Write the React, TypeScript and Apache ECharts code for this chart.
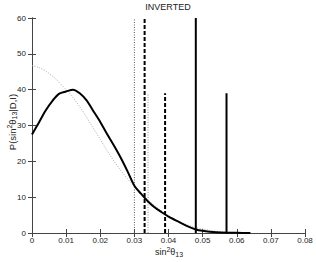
import React, { useEffect, useRef } from "react";
import * as echarts from "echarts";

const xTicks = [0, 0.01, 0.02, 0.03, 0.04, 0.05, 0.06, 0.07, 0.08];
const curveX = [0, 0.002, 0.004, 0.006, 0.008, 0.01, 0.012, 0.014, 0.016, 0.018, 0.02, 0.022, 0.024, 0.026, 0.028, 0.03, 0.032, 0.034, 0.036, 0.038, 0.04, 0.042, 0.044, 0.046, 0.048, 0.05, 0.052, 0.054, 0.057, 0.06, 0.064];
const posteriorY = [27.5, 30.8, 34.2, 36.9, 38.9, 39.5, 40.0, 39.0, 37.0, 34.0, 31.0, 27.6, 24.4, 21.0, 17.2, 13.2, 10.9, 8.8, 7.1, 5.8, 4.6, 3.6, 2.6, 1.7, 1.0, 0.6, 0.35, 0.2, 0.1, 0.05, 0];
const priorY = [46.7, 46.2, 45.2, 43.8, 42.0, 40.0, 37.8, 35.2, 32.3, 29.2, 26.1, 23.0, 20.1, 17.5, 15.1, 13.0, 11.0, 9.2, 7.6, 6.1, 4.8, 3.7, 2.8, 2.1, 1.5, 1.1, 0.75, 0.5, 0.3, 0.15, 0.05];
const limitX = [0.030, 0.034, 0.033, 0.039, 0.048, 0.057];
const limitTop = [60, 39, 60, 39, 60, 39];
const limitStyle = [
  { color: "#555", width: 1, type: [1, 1.5] },
  { color: "#999", width: 1, type: [1, 1.5] },
  { color: "#000", width: 2, type: [4, 2] },
  { color: "#000", width: 2, type: [4, 2] },
  { color: "#000", width: 2, type: "solid" },
  { color: "#000", width: 2, type: "solid" },
];

const FONT = "Liberation Sans, Arial, Helvetica, sans-serif";

export default function App() {
  const ref = useRef<HTMLDivElement>(null);
  useEffect(() => {
    if (!ref.current) return;
    const chart = echarts.init(ref.current, null, { renderer: "svg" });
    const axisLine = { show: true, lineStyle: { color: "#444", width: 1 } };
    const tick = { show: true, inside: true, length: 4, lineStyle: { color: "#444" } };
    const limitSeries = limitX.map((x, i) => ({
      type: "line",
      data: [[x, 0], [x, limitTop[i]]],
      symbol: "none",
      lineStyle: limitStyle[i],
      z: 3,
    }));
    const rich = {
      sup: { fontSize: 7, verticalAlign: "top", fill: "#222", fontFamily: FONT, lineHeight: 12 },
      sub: { fontSize: 7, verticalAlign: "bottom", fill: "#222", fontFamily: FONT, lineHeight: 12 },
    };
    chart.setOption({
      animation: false,
      textStyle: { fontFamily: FONT },
      grid: { left: 32, right: 11, top: 18, bottom: 29, containLabel: false },
      xAxis: [
        {
          type: "value", min: 0, max: 0.08, interval: 0.01, position: "bottom",
          axisLine, axisTick: tick, splitLine: { show: false },
          axisLabel: {
            fontSize: 8, color: "#222", margin: 3, fontFamily: FONT,
            formatter: (v: number) => (v === 0 ? "0" : v.toFixed(2)),
          },
        },
        {
          type: "value", min: 0, max: 0.08, interval: 0.01, position: "top",
          axisLine, axisTick: tick, splitLine: { show: false }, axisLabel: { show: false },
        },
      ],
      yAxis: [
        {
          type: "value", min: 0, max: 60, interval: 10, position: "left",
          axisLine, axisTick: tick, splitLine: { show: false },
          axisLabel: { fontSize: 8, color: "#222", margin: 6, fontFamily: FONT },
        },
        {
          type: "value", min: 0, max: 60, interval: 10, position: "right",
          axisLine, axisTick: tick, splitLine: { show: false }, axisLabel: { show: false },
        },
      ],
      graphic: [
        {
          type: "text", x: 168, y: 7,
          style: { text: "INVERTED", fontSize: 9, fill: "#222", align: "center", verticalAlign: "middle", fontFamily: FONT },
        },
        {
          type: "text", x: 169, y: 252,
          style: {
            text: "sin{sup|2}θ{sub|13}", fontSize: 9, fill: "#222", align: "center", verticalAlign: "middle", fontFamily: FONT,
            rich, lineHeight: 12,
          },
        },
        {
          type: "text", x: 12, y: 122, rotation: Math.PI / 2,
          style: {
            text: "P(sin{sup|2}θ{sub|13}|D,I)", fontSize: 9.5, fill: "#222", align: "center", verticalAlign: "middle", fontFamily: FONT,
            rich, lineHeight: 12,
          },
        },
      ],
      series: [
        {
          type: "line",
          data: curveX.map((x, i) => [x, priorY[i]]),
          symbol: "none",
          smooth: 0.3,
          lineStyle: { color: "#aaa", width: 1, type: [1, 1.5] },
          z: 2,
        },
        {
          type: "line",
          data: curveX.map((x, i) => [x, posteriorY[i]]),
          symbol: "none",
          smooth: 0.3,
          lineStyle: { color: "#000", width: 2 },
          z: 4,
        },
        ...limitSeries,
      ],
    });
    return () => chart.dispose();
  }, []);
  return <div ref={ref} style={{ width: 316, height: 262, position: "absolute", left: 0, top: 0, background: "#fff" }} />;
}
